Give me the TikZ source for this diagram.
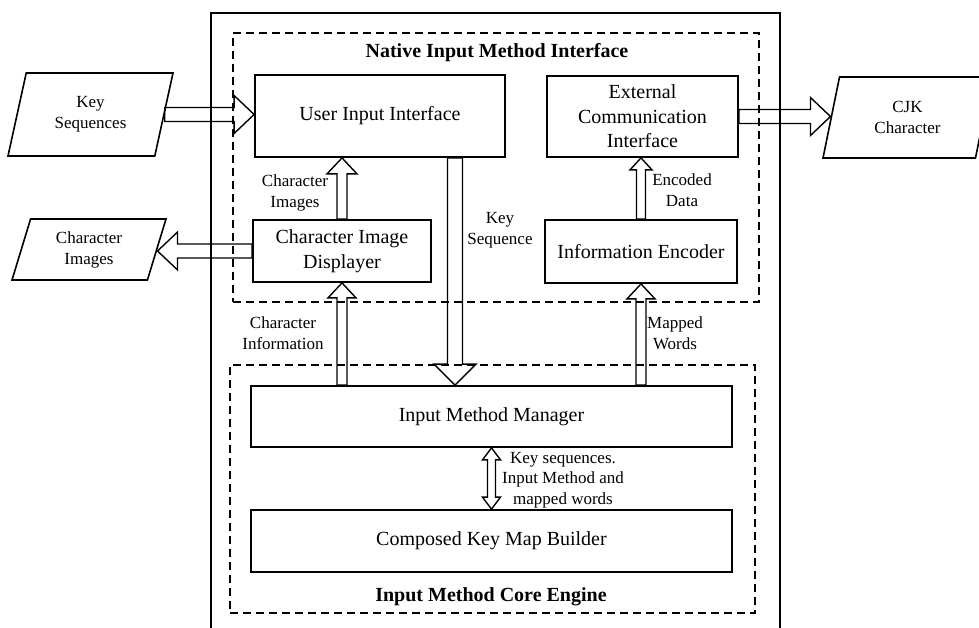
\documentclass[tikz,border=0pt]{standalone}
\usepackage{fontspec}
\setmainfont{Liberation Serif}
\usetikzlibrary{shapes.geometric,calc}

\tikzset{
  box/.style={draw, line width=1.8pt, align=center, inner sep=2pt,
    font=\fontsize{20}{24.5}\selectfont},
  iodata/.style={draw, trapezium, trapezium left angle=63, trapezium right angle=117,
    trapezium stretches body, line width=1.6pt, align=center, inner sep=0pt,
    font=\fontsize{17}{21}\selectfont},
  lbl/.style={align=center, inner sep=0pt, font=\fontsize{17}{20.5}\selectfont},
  grouptitle/.style={inner sep=0pt, font=\bfseries\fontsize{20}{24}\selectfont},
  groupbox/.style={draw, dash pattern=on 8pt off 5pt, line width=1.8pt, inner sep=0pt},
  hollow/.style={draw, line width=1.4pt, line join=miter},
}

% hollow block arrow: [opts]{from}{to}{shaft half}{head half}{head length}
\newcommand{\blockarrow}[6][]{%
  \path (#2) coordinate (ba-s) (#3) coordinate (ba-e);
  \path ($(ba-e)!#6!(ba-s)$) coordinate (ba-h);
  \draw[hollow,#1] ($(ba-s)!#4!90:(ba-e)$) -- ($(ba-h)!#4!-90:(ba-s)$)
    -- ($(ba-h)!#5!-90:(ba-s)$) -- (ba-e) -- ($(ba-h)!#5!90:(ba-s)$)
    -- ($(ba-h)!#4!90:(ba-s)$) -- ($(ba-s)!#4!-90:(ba-e)$) -- cycle;
}
% same, with a head at both ends
\newcommand{\dblarrow}[5]{%
  \path (#1) coordinate (da-s) (#2) coordinate (da-e);
  \path ($(da-e)!#5!(da-s)$) coordinate (da-h) ($(da-s)!#5!(da-e)$) coordinate (da-g);
  \draw[hollow] (da-s) -- ($(da-g)!#4!90:(da-e)$) -- ($(da-g)!#3!90:(da-e)$)
    -- ($(da-h)!#3!-90:(da-s)$) -- ($(da-h)!#4!-90:(da-s)$) -- (da-e)
    -- ($(da-h)!#4!90:(da-s)$) -- ($(da-h)!#3!90:(da-s)$)
    -- ($(da-g)!#3!-90:(da-e)$) -- ($(da-g)!#4!-90:(da-e)$) -- cycle;
}

\begin{document}
\begin{tikzpicture}[x=1pt,y=-1pt]
\useasboundingbox (0,0) rectangle (979,628);

% outer frame (open below the page edge)
\draw[line width=1.8pt] (211,640) -- (211,13) -- (780,13) -- (780,640);

% groups
\node[groupbox, minimum width=526pt, minimum height=269pt] (nimi) at (496,167.5) {};
\node[grouptitle] (nimi-title) at (497,53) {Native Input Method Interface};
\node[groupbox, minimum width=525pt, minimum height=248pt] (imce) at (492.5,489) {};
\node[grouptitle] (imce-title) at (491,597) {Input Method Core Engine};

% blocks
\node[box, minimum width=250pt, minimum height=82pt] (uii) at (380,116) {User Input Interface};
\node[box, minimum width=191pt, minimum height=81pt] (eci) at (642.5,116.5) {External\\Communication\\Interface};
\node[box, minimum width=178pt, minimum height=62pt] (cid) at (342,251) {Character Image\\Displayer};
\node[box, minimum width=192pt, minimum height=63pt] (ie) at (641,251.5) {Information Encoder};
\node[box, minimum width=481pt, minimum height=61pt] (imm) at (491.5,416.5) {Input Method Manager};
\node[box, minimum width=481pt, minimum height=62pt] (ckmb) at (491.5,541) {Composed Key Map Builder};

% external data
\node[iodata, minimum width=165pt, minimum height=83pt] (keyseq) at (90.5,114.5) {Key\\Sequences};
\node[iodata, minimum width=154pt, minimum height=61pt] (charimg) at (89,249.5) {Character\\Images};
\node[iodata, minimum width=169pt, minimum height=81pt] (cjk) at (907.5,117.5) {CJK\\Character};

% arrows
\blockarrow{keyseq.right side}{uii.west |- keyseq.right side}{7pt}{19pt}{20pt}
\blockarrow{cid.west}{charimg.right side |- cid.west}{7pt}{19pt}{20pt}
\blockarrow{eci.east}{cjk.left side |- eci.east}{7pt}{19pt}{20pt}
\blockarrow{cid.north}{cid.north |- uii.south}{5pt}{15pt}{16pt}
\blockarrow{ie.north}{ie.north |- eci.south}{4.5pt}{11pt}{12pt}
\blockarrow{cid.south |- imm.north}{cid.south}{5pt}{14pt}{15pt}
\blockarrow{ie.south |- imm.north}{ie.south}{5pt}{14pt}{15pt}
\coordinate (ks-top) at ([xshift=75pt]uii.south);
\blockarrow{ks-top}{ks-top |- imm.north}{7.5pt}{21pt}{21pt}
\dblarrow{imm.south}{imm.south |- ckmb.north}{4pt}{9pt}{12pt}

% arrow labels
\node[lbl] (lbl-ci) at (295,193) {Character\\Images};
\node[lbl] (lbl-ks) at (500,230) {Key\\Sequence};
\node[lbl] (lbl-ed) at (682,190) {Encoded\\Data};
\node[lbl] (lbl-info) at (283,333) {Character\\Information};
\node[lbl] (lbl-mw) at (675,333) {Mapped\\Words};
\node[lbl] (lbl-kim) at (563,480) {Key sequences.\\Input Method and\\mapped words};
\end{tikzpicture}
\end{document}
